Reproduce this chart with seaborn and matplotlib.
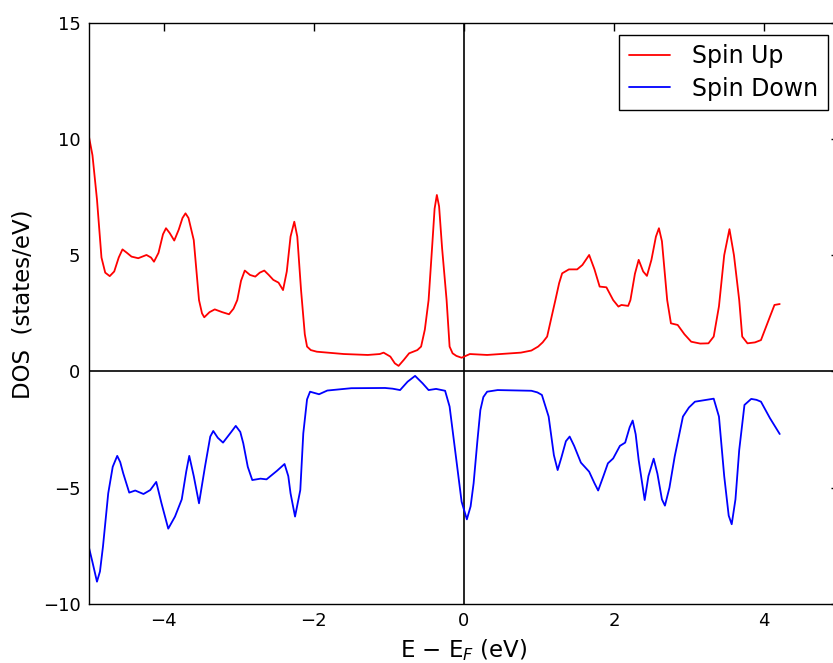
import numpy as np
import pandas as pd
import matplotlib
matplotlib.use("Agg")
import matplotlib.pyplot as plt
import seaborn as sns

# ---- data ----
up_energy = [-5.00, -4.95, -4.89, -4.83, -4.78, -4.72, -4.66, -4.60, -4.55, -4.49,
             -4.43, -4.34, -4.23, -4.17, -4.13, -4.07, -4.01, -3.97, -3.92, -3.86,
             -3.80, -3.75, -3.71, -3.67, -3.60, -3.53, -3.49, -3.46, -3.39, -3.32,
             -3.22, -3.13, -3.07, -3.02, -2.97, -2.92, -2.85, -2.78, -2.72, -2.66,
             -2.60, -2.54, -2.47, -2.41, -2.36, -2.31, -2.26, -2.22, -2.17, -2.12,
             -2.09, -2.04, -1.96, -1.60, -1.28, -1.12, -1.07, -0.98, -0.92, -0.87, -0.80,
             -0.73, -0.62, -0.57, -0.52, -0.47, -0.42, -0.39, -0.36, -0.33, -0.29,
             -0.23, -0.19, -0.15, -0.10, -0.03, 0.08, 0.31, 0.76, 0.90, 0.99, 1.05, 1.11, 1.17,
             1.22, 1.27, 1.31, 1.40, 1.51, 1.58, 1.67, 1.74, 1.81, 1.90,
             1.99, 2.06, 2.10, 2.19, 2.22, 2.28, 2.33, 2.39, 2.44, 2.50,
             2.56, 2.60, 2.64, 2.71, 2.76, 2.85, 2.94, 3.03, 3.15, 3.26, 3.33,
             3.40, 3.47, 3.54, 3.60, 3.67, 3.71, 3.78, 3.88, 3.96, 4.08, 4.14, 4.21]
up_dos = [10.15, 9.3, 7.4, 4.9, 4.25, 4.1, 4.3, 4.9, 5.25, 5.1,
          4.94, 4.87, 5.01, 4.9, 4.72, 5.1, 5.9, 6.16, 5.95, 5.63,
          6.1, 6.6, 6.80, 6.6, 5.65, 3.07, 2.5, 2.33, 2.55, 2.67,
          2.55, 2.46, 2.7, 3.07, 3.9, 4.34, 4.15, 4.08, 4.25, 4.34,
          4.15, 3.94, 3.82, 3.5, 4.3, 5.8, 6.44, 5.8, 3.5, 1.6,
          1.07, 0.92, 0.85, 0.75, 0.71, 0.75, 0.81, 0.64, 0.35, 0.24, 0.5,
          0.78, 0.92, 1.07, 1.8, 3.07, 5.5, 7.0, 7.59, 7.1, 5.3,
          3.07, 1.07, 0.78, 0.67, 0.59, 0.75, 0.71, 0.81, 0.9, 1.07, 1.25, 1.5, 2.36,
          3.07, 3.8, 4.22, 4.39, 4.39, 4.58, 5.01, 4.4, 3.65, 3.62,
          3.07, 2.79, 2.86, 2.82, 3.07, 4.2, 4.8, 4.3, 4.11, 4.8,
          5.8, 6.16, 5.6, 3.07, 2.07, 2.0, 1.6, 1.28, 1.2, 1.21, 1.5,
          2.8, 5.0, 6.12, 5.0, 3.07, 1.5, 1.21, 1.25, 1.35, 2.36, 2.86, 2.90]

down_energy = [-5.00, -4.95, -4.89, -4.85, -4.81, -4.74, -4.68, -4.62, -4.58, -4.54,
               -4.46, -4.38, -4.27, -4.18, -4.10, -4.03, -3.94, -3.85, -3.76, -3.70,
               -3.66, -3.60, -3.53, -3.45, -3.38, -3.34, -3.28, -3.21, -3.10, -3.04,
               -2.98, -2.94, -2.88, -2.82, -2.71, -2.63, -2.49, -2.39, -2.34, -2.31,
               -2.25, -2.18, -2.14, -2.09, -2.05, -1.93, -1.82, -1.50, -1.05, -0.95, -0.85,
               -0.75, -0.65, -0.55, -0.47, -0.37, -0.25, -0.19, -0.10, -0.03, 0.04,
               0.09, 0.13, 0.18, 0.22, 0.26, 0.31, 0.45, 0.90, 0.98, 1.04, 1.13, 1.20,
               1.25, 1.30, 1.36, 1.41, 1.47, 1.56, 1.67, 1.74, 1.79, 1.86,
               1.92, 1.99, 2.08, 2.15, 2.21, 2.25, 2.29, 2.33, 2.41, 2.46,
               2.53, 2.58, 2.64, 2.68, 2.74, 2.81, 2.92, 3.00, 3.08, 3.33, 3.40,
               3.47, 3.53, 3.57, 3.62, 3.67, 3.74, 3.83, 3.90, 3.96, 4.08, 4.21]
down_dos = [-7.53, -8.2, -9.04, -8.6, -7.53, -5.24, -4.1, -3.63, -3.9, -4.38,
            -5.21, -5.12, -5.27, -5.1, -4.75, -5.67, -6.76, -6.24, -5.5, -4.3,
            -3.63, -4.5, -5.67, -4.09, -2.8, -2.56, -2.85, -3.06, -2.6, -2.34,
            -2.6, -3.09, -4.1, -4.67, -4.61, -4.64, -4.27, -3.98, -4.5, -5.24,
            -6.24, -5.1, -2.66, -1.2, -0.87, -0.98, -0.82, -0.72, -0.71, -0.74, -0.80,
            -0.44, -0.19, -0.51, -0.80, -0.75, -0.83, -1.51, -3.81, -5.6, -6.36,
            -5.8, -4.81, -3.0, -1.66, -1.1, -0.87, -0.80, -0.83, -0.9, -1.01, -1.94, -3.6,
            -4.24, -3.7, -3.0, -2.80, -3.2, -3.92, -4.31, -4.8, -5.12, -4.5,
            -3.95, -3.74, -3.20, -3.06, -2.4, -2.11, -2.7, -3.81, -5.53, -4.5,
            -3.75, -4.4, -5.5, -5.77, -5.0, -3.66, -1.94, -1.55, -1.30, -1.17, -1.94,
            -4.5, -6.2, -6.57, -5.5, -3.38, -1.44, -1.18, -1.22, -1.30, -2.01, -2.69]

series_labels = ["Spin Up", "Spin Down"]
x_ticks = [-4, -2, 0, 2, 4]
y_ticks = [-10, -5, 0, 5, 10, 15]

sns.set_theme(style="white")
plt.rcParams["font.family"] = ["DejaVu Sans"]
plt.rcParams["axes.unicode_minus"] = True
plt.rcParams["text.color"] = "black"
plt.rcParams["axes.labelcolor"] = "black"

fig = plt.figure(figsize=(8.33, 6.63), dpi=100)
ax = fig.add_axes([0.1065, 0.0890, 0.9007, 0.8768])

df_up = pd.DataFrame({"E": up_energy, "DOS": up_dos})
df_dn = pd.DataFrame({"E": down_energy, "DOS": down_dos})
sns.lineplot(data=df_up, x="E", y="DOS", sort=False, estimator=None,
             color="#ff0000", lw=1.3, label=series_labels[0], ax=ax)
sns.lineplot(data=df_dn, x="E", y="DOS", sort=False, estimator=None,
             color="#0000ff", lw=1.3, label=series_labels[1], ax=ax)

ax.axhline(0, color="black", lw=1.2, zorder=1)
ax.axvline(0, color="black", lw=1.2, zorder=1)

ax.set_xlim(-5, 5)
ax.set_ylim(-10, 15)
ax.set_xticks(x_ticks)
ax.set_yticks(y_ticks)
ax.tick_params(direction="in", length=6, width=1, colors="black",
               top=True, right=True, labelsize=13)
ax.tick_params(axis="x", pad=5.5)
ax.tick_params(axis="y", pad=6)
for s in ax.spines.values():
    s.set_color("black")
    s.set_linewidth(1.0)

ax.set_xlabel("E $-$ E$_F$ (eV)", fontsize=16.5, color="black")
ax.set_ylabel("DOS  (states/eV)", fontsize=16.5, color="black")
ax.xaxis.set_label_coords(0.5, -(650 - 604) / 581.3)
ax.xaxis.label.set_va("center")
ax.yaxis.set_label_coords((23 - 88.7) / 750.3, (604 - 304) / 581.3)
ax.yaxis.label.set_va("center")

leg = ax.legend(loc="upper right", bbox_to_anchor=(828 / 833, 1 - 35 / 663),
                bbox_transform=fig.transFigure, borderaxespad=0,
                fontsize=17, frameon=True, fancybox=False, framealpha=1,
                edgecolor="black", handlelength=1.75, handletextpad=0.95,
                labelspacing=0.35, borderpad=0.4)
leg.get_frame().set_linewidth(1.0)
for t in leg.get_texts():
    t.set_color("black")

fig.savefig("out.png", dpi=100)
